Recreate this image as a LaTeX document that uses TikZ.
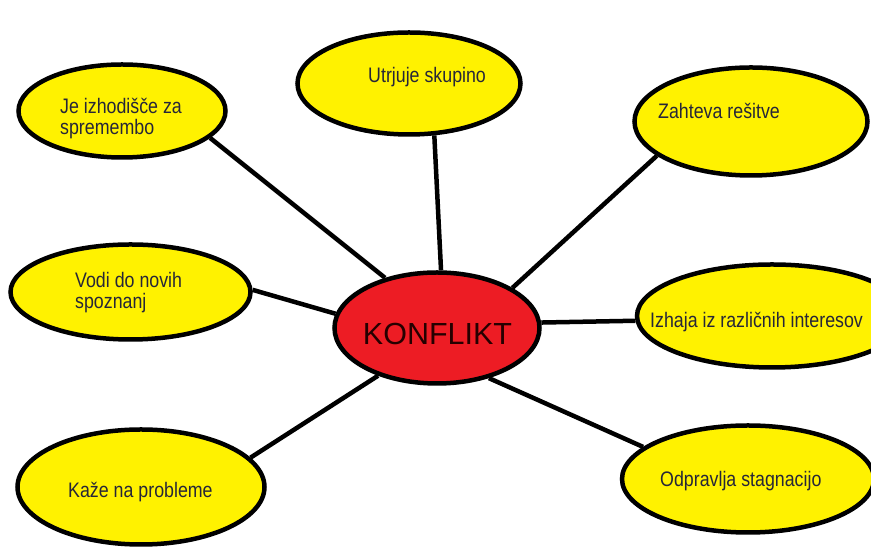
\documentclass[tikz,border=0pt]{standalone}
\usepackage{fontspec}
\setmainfont{Liberation Sans}
\usetikzlibrary{shapes.geometric}
\definecolor{bubyellow}{RGB}{255,242,0}
\definecolor{bubred}{RGB}{237,28,36}
\definecolor{txtdark}{RGB}{38,38,56}
\newcommand{\bubtext}[1]{\scalebox{1}[1.18]{\fontsize{17.8}{16.2}\selectfont\begin{tabular}[t]{@{}l@{}}#1\end{tabular}}}
\begin{document}
\begin{tikzpicture}[x=1pt,y=1pt,
  bub/.style={draw=black, line width=4.5pt, fill=bubyellow, ellipse, inner sep=0pt},
  core/.style={draw=black, line width=4.5pt, fill=bubred, ellipse, inner sep=0pt},
  lbl/.style={anchor=base west, inner sep=0pt, text=txtdark},
  link/.style={line width=4.5pt, draw=black}]
\useasboundingbox (0,0) rectangle (871,548);
\clip (0,0) rectangle (871,548);
% bubbles
\node[bub, minimum width=207pt, minimum height=93pt]  (n1) at (122,437) {};
\node[bub, minimum width=223pt, minimum height=102pt] (n2) at (409,464.5) {};
\node[bub, minimum width=233pt, minimum height=108pt] (n3) at (751,426.5) {};
\node[bub, minimum width=240pt, minimum height=95pt]  (n4) at (130.5,256) {};
\node[bub, minimum width=270pt, minimum height=103pt] (n6) at (772,232) {};
\node[bub, minimum width=247pt, minimum height=115pt] (n7) at (141,61) {};
\node[bub, minimum width=252pt, minimum height=107pt] (n8) at (748,69) {};
\node[core, minimum width=205pt, minimum height=111pt] (c) at (437,220) {};
% connectors
\draw[link] (c.136) -- (n1.343);
\draw[link] (c.86) -- (n2.296);
\draw[link] (c.28) -- (n3.200);
\draw[link] (c.172) -- (n4.1);
\draw[link] (c.3) -- (n6.182);
\draw[link] (c.219) -- (n7.15);
\draw[link] (c.316) -- (n8.163);
% texts
\node[lbl] (t1) at (60,434) {\bubtext{Je izhodišče za\\spremembo}};
\node[lbl] (t2) at (368,465) {\bubtext{Utrjuje skupino}};
\node[lbl] (t3) at (658,429.5) {\bubtext{Zahteva rešitve}};
\node[lbl] (t4) at (75,260) {\bubtext{Vodi do novih\\spoznanj}};
\node[lbl] (t6) at (650,220) {\bubtext{Izhaja iz različnih interesov}};
\node[lbl] (t7) at (68,50) {\bubtext{Kaže na probleme}};
\node[lbl] (t8) at (660,61) {\bubtext{Odpravlja stagnacijo}};
\node[anchor=base, inner sep=0pt, text=black!85!red, font=\fontsize{30.5}{32}\selectfont] (tc) at (437.5,203) {KONFLIKT};
\end{tikzpicture}
\end{document}
